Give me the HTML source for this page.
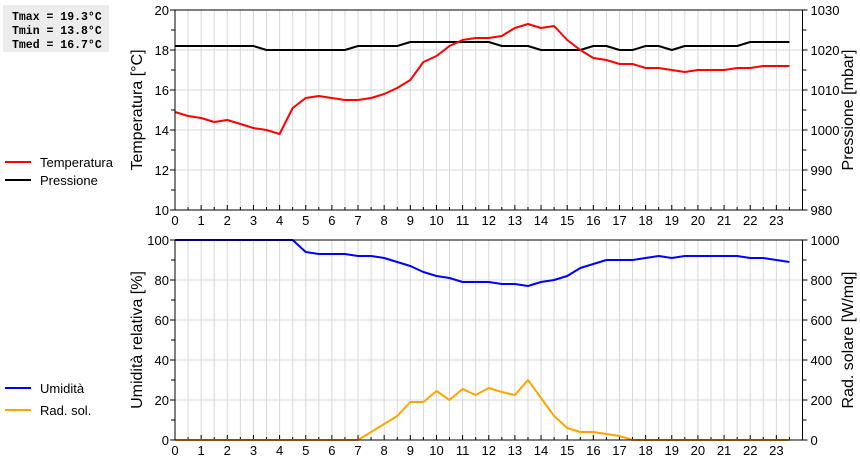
<!DOCTYPE html>
<html><head><meta charset="utf-8"><style>
body{margin:0;background:#fff;width:860px;height:460px;overflow:hidden}
svg{font-family:"Liberation Sans",sans-serif}
</style></head><body>
<svg id="c" width="860" height="460" xmlns="http://www.w3.org/2000/svg">
<rect x="3" y="5" width="106" height="47" fill="#ececec"/>
<g font-family="Liberation Mono,monospace" font-weight="bold" font-size="11.5">
<text x="12" y="20">Tmax = 19.3°C</text>
<text x="12" y="34">Tmin = 13.8°C</text>
<text x="12" y="48">Tmed = 16.7°C</text>
</g>
<g font-size="13">
<line x1="5" y1="162" x2="31" y2="162" stroke="#f00" stroke-width="2"/><text x="40" y="167">Temperatura</text>
<line x1="5" y1="180" x2="31" y2="180" stroke="#000" stroke-width="2"/><text x="40" y="185">Pressione</text>
</g>
<g font-size="13">
<line x1="5" y1="388" x2="31" y2="388" stroke="#00f" stroke-width="2"/><text x="40" y="393">Umidità</text>
<line x1="5" y1="410" x2="31" y2="410" stroke="#ffa500" stroke-width="2"/><text x="40" y="415">Rad. sol.</text>
</g>
<g font-size="16">
<text transform="translate(142,110) rotate(-90)" text-anchor="middle">Temperatura [°C]</text>
<text transform="translate(853,110) rotate(-90)" text-anchor="middle">Pressione [mbar]</text>
<text transform="translate(142,340) rotate(-90)" text-anchor="middle">Umidità relativa [%]</text>
<text transform="translate(853,340) rotate(-90)" text-anchor="middle">Rad. solare [W/mq]</text>
</g>
</svg>
<script>
const hours=[0,0.5,1,1.5,2,2.5,3,3.5,4,4.5,5,5.5,6,6.5,7,7.5,8,8.5,9,9.5,10,10.5,11,11.5,12,12.5,13,13.5,14,14.5,15,15.5,16,16.5,17,17.5,18,18.5,19,19.5,20,20.5,21,21.5,22,22.5,23,23.5];
const temperature=[14.9,14.7,14.6,14.4,14.5,14.3,14.1,14.0,13.8,15.1,15.6,15.7,15.6,15.5,15.5,15.6,15.8,16.1,16.5,17.4,17.7,18.2,18.5,18.6,18.6,18.7,19.1,19.3,19.1,19.2,18.5,18.0,17.6,17.5,17.3,17.3,17.1,17.1,17.0,16.9,17.0,17.0,17.0,17.1,17.1,17.2,17.2,17.2];
const pressure=[1021,1021,1021,1021,1021,1021,1021,1020,1020,1020,1020,1020,1020,1020,1021,1021,1021,1021,1022,1022,1022,1022,1022,1022,1022,1021,1021,1021,1020,1020,1020,1020,1021,1021,1020,1020,1021,1021,1020,1021,1021,1021,1021,1021,1022,1022,1022,1022];
const humidity=[100,100,100,100,100,100,100,100,100,100,94,93,93,93,92,92,91,89,87,84,82,81,79,79,79,78,78,77,79,80,82,86,88,90,90,90,91,92,91,92,92,92,92,92,91,91,90,89];
const radiation=[0,0,0,0,0,0,0,0,0,0,0,0,0,0,0,40,80,120,190,190,245,200,255,225,260,240,225,300,210,120,60,40,40,30,20,0,0,0,0,0,0,0,0,0,0,0,0,0];
const tempTicks=[10,12,14,16,18,20];
const presTicks=[980,990,1000,1010,1020,1030];
const humTicks=[0,20,40,60,80,100];
const radTicks=[0,200,400,600,800,1000];
const xTicks=[0,1,2,3,4,5,6,7,8,9,10,11,12,13,14,15,16,17,18,19,20,21,22,23];

const svg=document.getElementById('c');
const NS='http://www.w3.org/2000/svg';
const X0=175,X1=802.5;
const xs=h=>X0+(X1-X0)*h/24;
function el(tag,attrs,parent){const e=document.createElementNS(NS,tag);for(const k in attrs)e.setAttribute(k,attrs[k]);(parent||svg).appendChild(e);return e;}

function panel(top,name,lTicks,rTicks,series){
  const bot=top+200;
  const g=el('g',{});
  
  
  const lmin=lTicks[0],lmax=lTicks[lTicks.length-1],rmin=rTicks[0],rmax=rTicks[rTicks.length-1];
  const ly=v=>bot-(v-lmin)/(lmax-lmin)*200, ry=v=>bot-(v-rmin)/(rmax-rmin)*200;
  for(let i=1;i<48;i++){const x=xs(i/2);const l=el('line',{x1:x,x2:x,y1:top,y2:bot,stroke:'#d8d8d8','stroke-width':1},g);}
  lTicks.forEach((t,i)=>{if(i>0&&i<lTicks.length-1){const y=ly(t);const l=el('line',{x1:X0,x2:X1,y1:y,y2:y,stroke:'#d8d8d8'},g);}});
  xTicks.forEach(t=>{const x=xs(t);el('line',{x1:x,x2:x,y1:bot-5,y2:bot,stroke:'#000'},g);
    el('line',{x1:xs(t+0.5),x2:xs(t+0.5),y1:bot-3,y2:bot,stroke:'#000'},g);
    const tx=el('text',{x:x,y:bot+15,'text-anchor':'middle','font-size':13},g);tx.textContent=t;
    });
  series.forEach(s=>{
    const f=s.axis==='l'?ly:ry;
    const pts=s.data.map((v,i)=>xs(hours[i]).toFixed(1)+','+f(v).toFixed(1)).join(' ');
    const p=el('polyline',{points:pts,fill:'none',stroke:s.color,'stroke-width':2,'stroke-linejoin':'round'},g);
    
    
  });
  el('rect',{x:X0,y:top,width:X1-X0,height:200,fill:'none',stroke:'#000','stroke-width':1},g);
  lTicks.forEach((t,i)=>{const y=ly(t);el('line',{x1:X0-5,x2:X0,y1:y,y2:y,stroke:'#000'},g);
    const tx=el('text',{x:X0-6,y:y+5,'text-anchor':'end','font-size':13},g);tx.textContent=t;
    
    if(i<lTicks.length-1){const ym=y-20;el('line',{x1:X0-4,x2:X0,y1:ym,y2:ym,stroke:'#000'},g);}});
  rTicks.forEach((t,i)=>{const y=ry(t);el('line',{x1:X1,x2:X1+5,y1:y,y2:y,stroke:'#000'},g);
    const tx=el('text',{x:X1+8,y:y+5,'font-size':13},g);tx.textContent=t;
    
    if(i<rTicks.length-1){const ym=y-20;el('line',{x1:X1,x2:X1+4,y1:ym,y2:ym,stroke:'#000'},g);}});
}
panel(10,'top-chart',tempTicks,presTicks,[{name:'pressure-line',data:pressure,axis:'r',color:'#000'},{name:'temperature-line',data:temperature,axis:'l',color:'#f00'}]);
panel(240,'bottom-chart',humTicks,radTicks,[{name:'radiation-line',data:radiation,axis:'r',color:'#ffa500'},{name:'humidity-line',data:humidity,axis:'l',color:'#00f'}]);
</script>
</body></html>
